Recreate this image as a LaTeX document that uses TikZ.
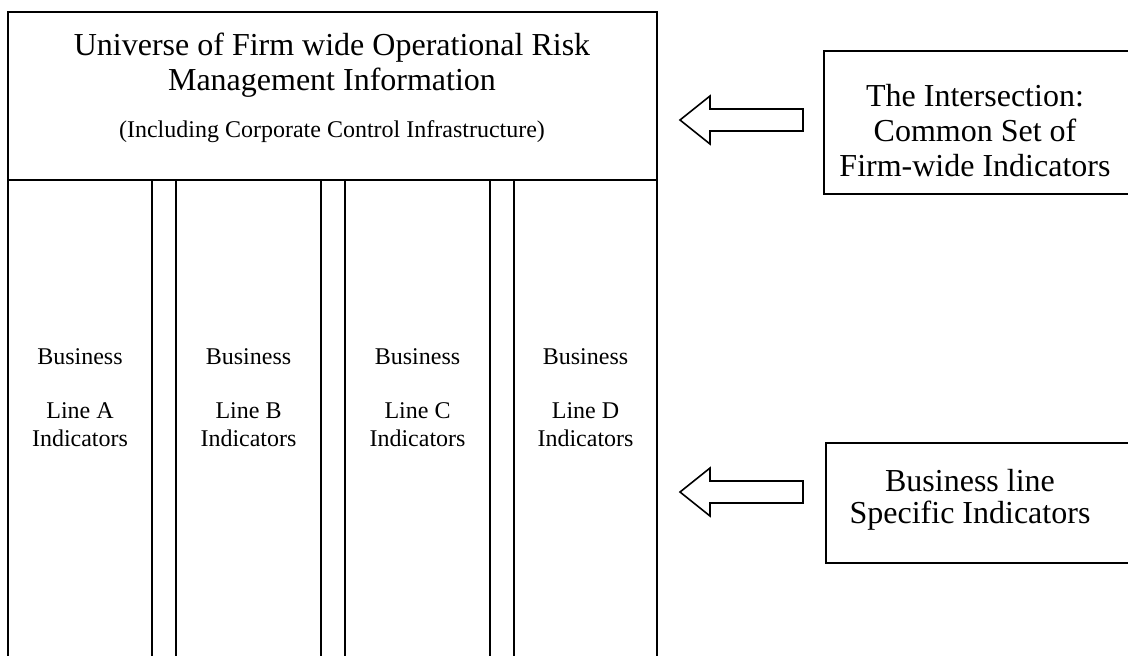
\documentclass[tikz,border=0pt]{standalone}
\usepackage{fontspec}
\setmainfont{Liberation Serif}
\begin{document}
\begin{tikzpicture}[x=.5pt,y=-.5pt,line width=.8pt,
		big/.style={font=\fontsize{16}{17.5}\selectfont,align=center,inner sep=0pt},
		small/.style={font=\fontsize{12}{14}\selectfont,align=center,inner sep=0pt}]
		\useasboundingbox (0,0) rectangle (1128,655);
		
		% firm wide block
		\draw (8,12) rectangle (657,180);
		\node[big] (universe) at (332,65) {Universe of Firm wide Operational Risk\\Management Information};
		\node[small] (infra) at (332,132) {(Including Corporate Control Infrastructure)};
		
		% business line columns, open at the bottom
		\foreach \l/\r/\n in {8/152/A,176/321/B,345/490/C,514/657/D}
		{
			\draw (\l,656) -- (\l,180) -- (\r,180) -- (\r,656);
			\node[small] (line\n) at ({(\l+\r)/2},398) {Business\\[13pt]Line \n\\Indicators};
		}
		
		\draw (824,51) rectangle (1132,194);
		\node[big] (common) at (975,131) {The Intersection:\\Common Set of\\Firm-wide Indicators};
		
		\draw (826,443) rectangle (1132,563);
		\node[big,font=\fontsize{16}{16}\selectfont] (specific) at (970,500) {Business line\\Specific Indicators};
		
		% hollow arrows pointing at the block
		\foreach \y in {120,492}
			\draw (680,\y) -- ++(30,-24) -- ++(0,13) -- ++(93,0) -- ++(0,22) -- ++(-93,0) -- ++(0,13) -- cycle;
		
\end{tikzpicture}
\end{document}
